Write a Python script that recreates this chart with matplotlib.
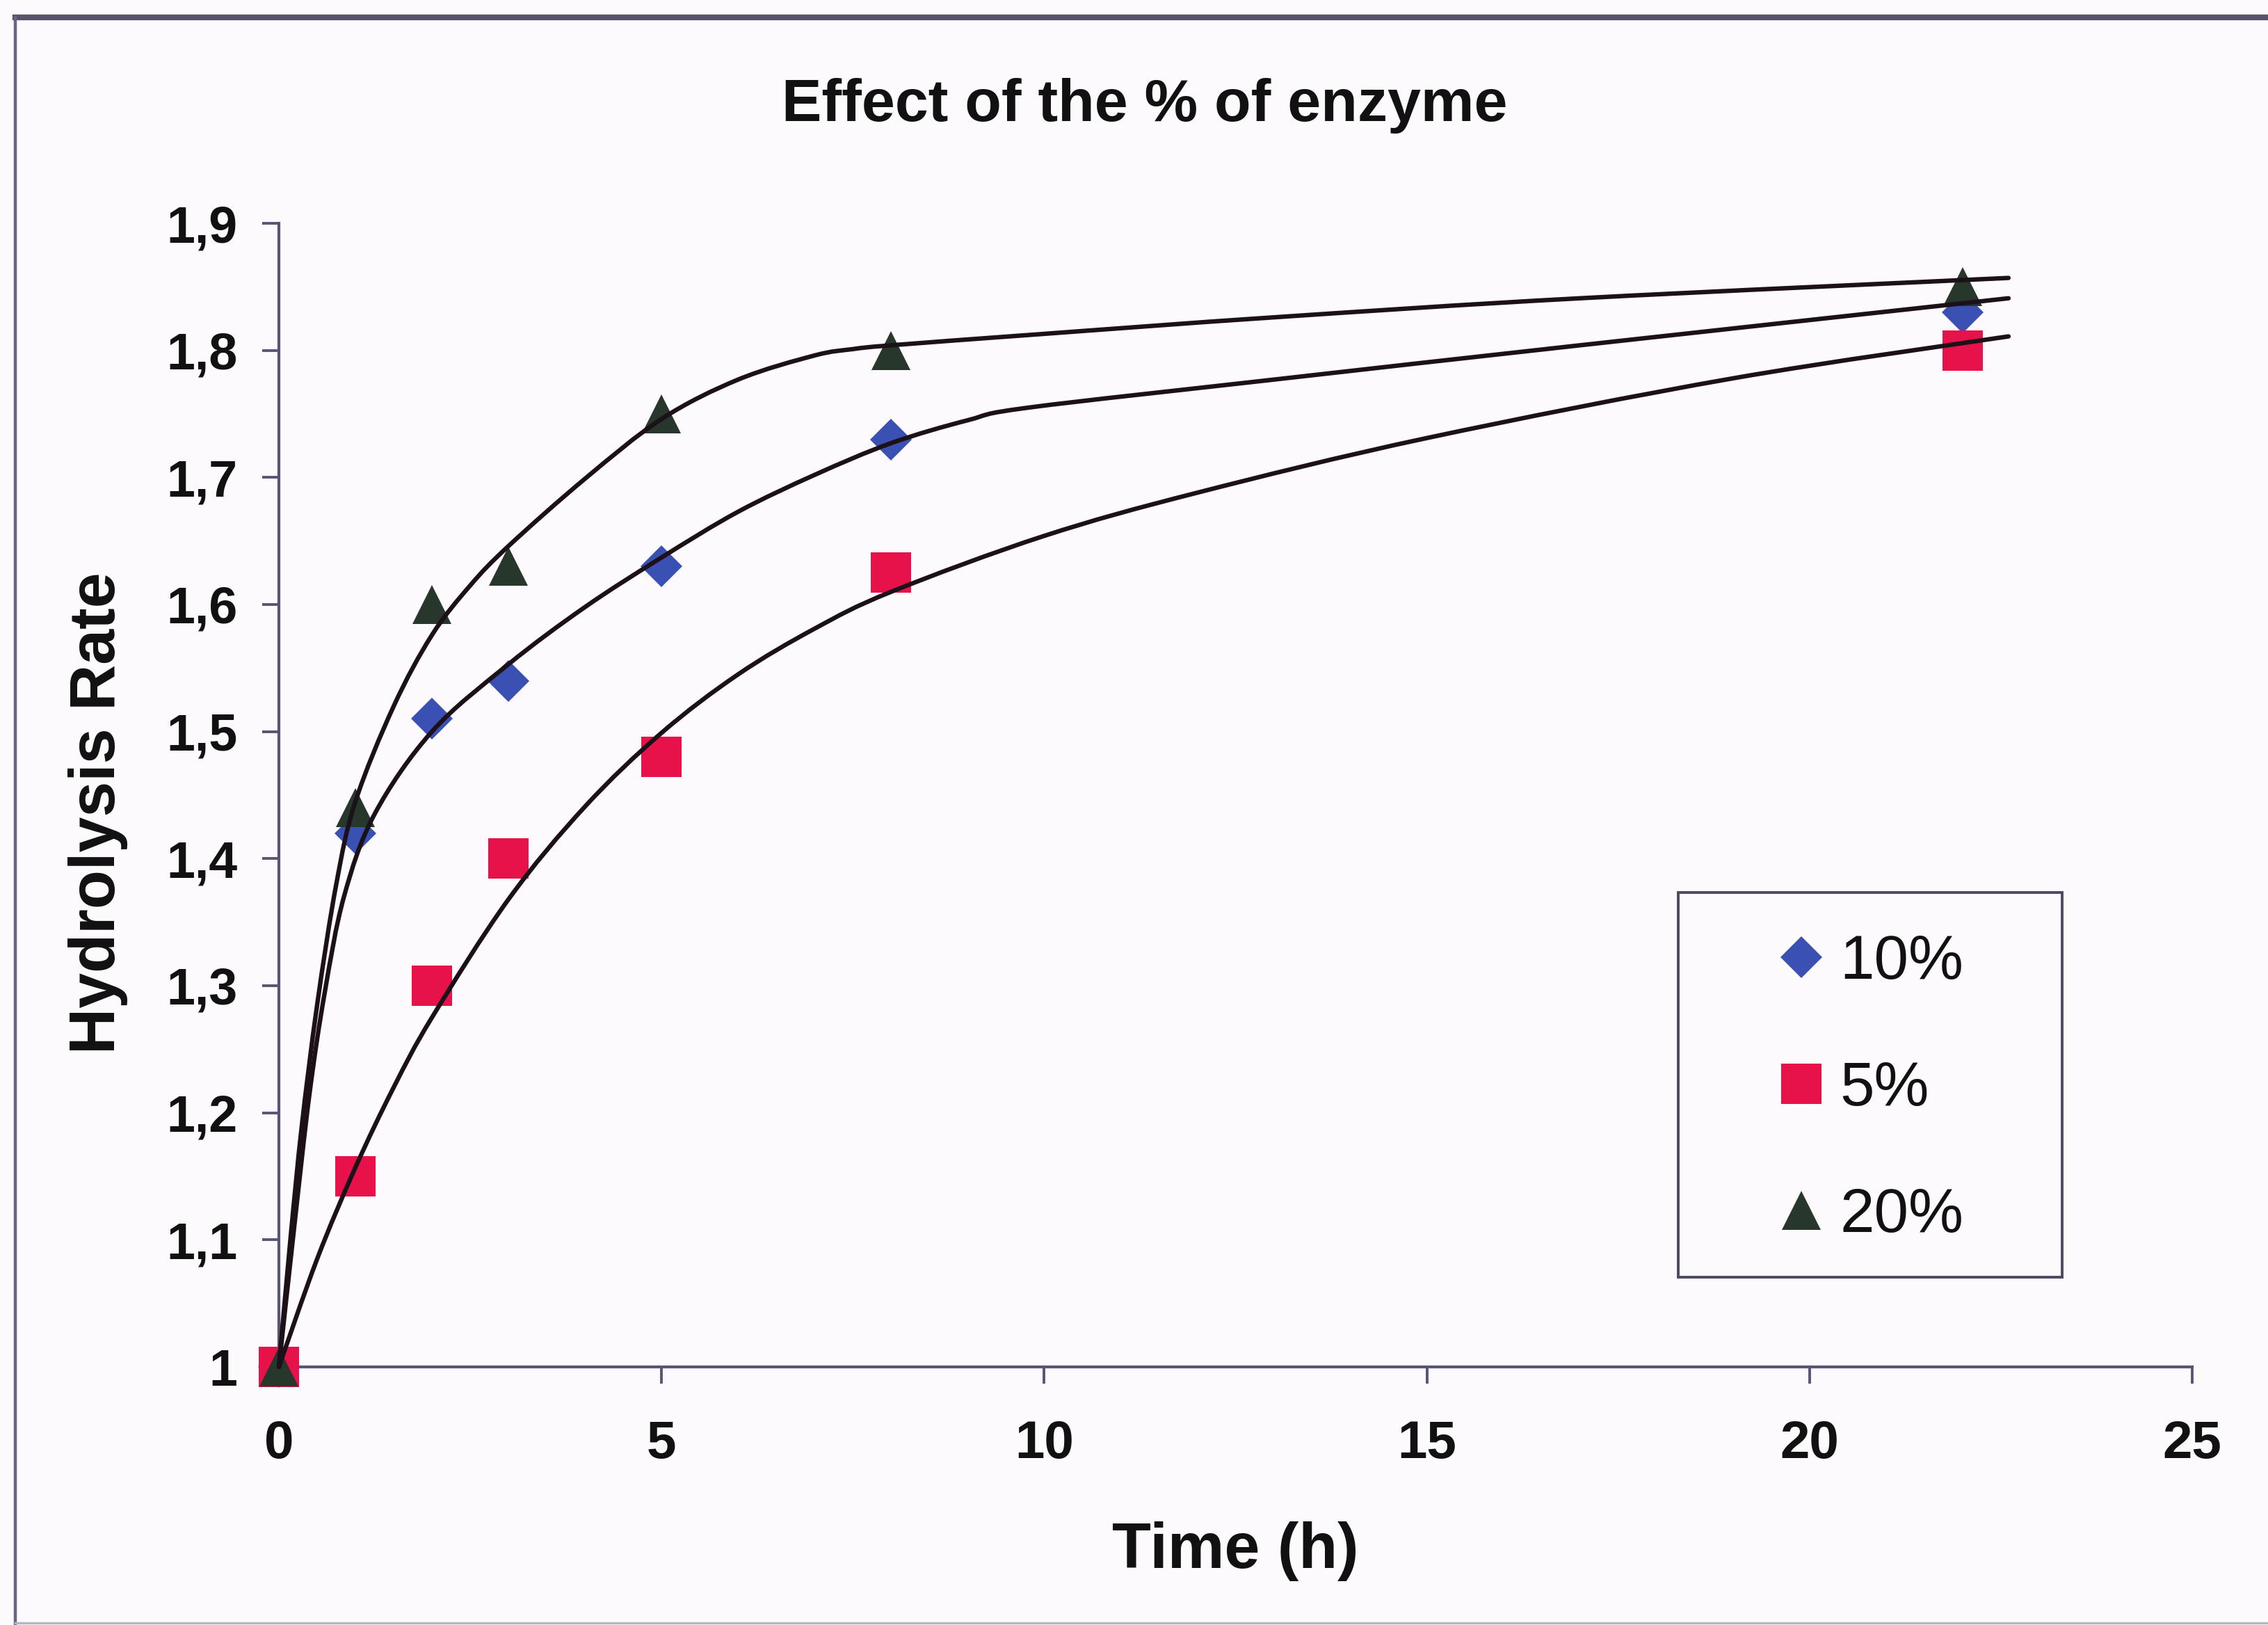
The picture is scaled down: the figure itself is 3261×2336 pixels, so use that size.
import matplotlib
matplotlib.use("Agg")
import matplotlib.pyplot as plt
from matplotlib.lines import Line2D
from matplotlib.patches import Rectangle, PathPatch
from matplotlib.path import Path
from matplotlib.ticker import FixedLocator, FixedFormatter

# Measured hydrolysis rate at each sampling time
time_h = [0, 1, 2, 3, 5, 8, 22]
rate_10 = [1.00, 1.42, 1.51, 1.54, 1.63, 1.73, 1.83]
rate_5 = [1.00, 1.15, 1.30, 1.40, 1.48, 1.625, 1.80]
rate_20 = [1.00, 1.44, 1.60, 1.63, 1.75, 1.80, 1.85]

# Fitted trend curves (sampled points along each curve)
fit20_x = [0, 0.15, 0.3, 0.5, 0.75, 1.0, 1.5, 2.0, 2.5, 3.0, 4.0, 5.0, 6.0, 7.0, 7.5,
           8.0, 10.0, 13.0, 17.0, 22.6]
fit20_y = [1.0, 1.10, 1.19, 1.285, 1.38, 1.445, 1.52, 1.576, 1.615, 1.646, 1.699, 1.746,
           1.777, 1.796, 1.801, 1.804, 1.813, 1.826, 1.841, 1.857]

fit10_x = [0, 0.2, 0.4, 0.6, 0.85, 1.25, 2.0, 3.0, 4.0, 5.0, 6.0, 7.0, 8.0, 9.0, 9.8,
           13.0, 17.0, 22.6]
fit10_y = [1.0, 1.11, 1.215, 1.295, 1.37, 1.435, 1.50, 1.553, 1.598, 1.637, 1.673, 1.702,
           1.727, 1.745, 1.755, 1.777, 1.804, 1.841]

fit5_x = [0, 0.5, 1.0, 1.5, 2.0, 3.0, 4.0, 5.0, 6.0, 7.0, 8.0, 10.0, 12.0, 15.0, 19.0,
          22.6]
fit5_y = [1.0, 1.085, 1.157, 1.22, 1.275, 1.368, 1.441, 1.499, 1.545, 1.581, 1.610, 1.654,
          1.688, 1.731, 1.778, 1.811]

series_labels = ["10%", "5%", "20%"]
x_ticks = [0, 5, 10, 15, 20, 25]
y_ticks = [1.0, 1.1, 1.2, 1.3, 1.4, 1.5, 1.6, 1.7, 1.8, 1.9]
y_tick_labels = ["1", "1,1", "1,2", "1,3", "1,4", "1,5", "1,6", "1,7", "1,8", "1,9"]

FONT = "Liberation Sans"
BG = "#fdfafd"
AXIS_C = "#5a5474"
CURVE_C = "#1c1119"
C10, C5, C20 = "#3a50b2", "#e8124a", "#27372b"

W, H = 3262, 2336
fig = plt.figure(figsize=(W / 200, H / 200), dpi=200, facecolor=BG)


def fx(px):
    return px / W


def fy(py):
    return 1 - py / H


def smooth_path(xs, ys):
    """Cubic Bezier path passing through every sampled point (Catmull-Rom tangents)."""
    pts = list(zip(xs, ys))
    n = len(pts)
    verts = [pts[0]]
    codes = [Path.MOVETO]
    for i in range(n - 1):
        p0 = pts[i - 1] if i > 0 else pts[i]
        p1 = pts[i]
        p2 = pts[i + 1]
        p3 = pts[i + 2] if i + 2 < n else pts[i + 1]
        c1 = (p1[0] + (p2[0] - p0[0]) / 6, p1[1] + (p2[1] - p0[1]) / 6)
        c2 = (p2[0] - (p3[0] - p1[0]) / 6, p2[1] - (p3[1] - p1[1]) / 6)
        verts += [c1, c2, p2]
        codes += [Path.CURVE4] * 3
    return Path(verts, codes)


ax = fig.add_axes([fx(401), fy(1965), fx(3152) - fx(401), fy(321) - fy(1965)])
ax.set_facecolor(BG)
ax.set_xlim(0, 25)
ax.set_ylim(1.0, 1.9)

for side in ("top", "right"):
    ax.spines[side].set_visible(False)
for side in ("left", "bottom"):
    ax.spines[side].set_color(AXIS_C)
    ax.spines[side].set_linewidth(1.5)

ax.xaxis.set_major_locator(FixedLocator(x_ticks))
ax.yaxis.set_major_locator(FixedLocator(y_ticks))
ax.yaxis.set_major_formatter(FixedFormatter(y_tick_labels))
ax.tick_params(axis="both", direction="out", length=8.5, width=1.4, color=AXIS_C,
               labelcolor="#111111")
ax.tick_params(axis="y", pad=13, labelsize=26.5)
ax.tick_params(axis="x", pad=19, labelsize=27.5)
for lbl in ax.get_xticklabels() + ax.get_yticklabels():
    lbl.set_fontfamily(FONT)
    lbl.set_fontweight("bold")

# Markers for the measured points
ax.plot(time_h, rate_10, linestyle="none", marker="D", markersize=15.5, color=C10,
        markeredgewidth=0, clip_on=False, zorder=3)
ax.plot(time_h, rate_5, linestyle="none", marker="s", markersize=21, color=C5,
        markeredgewidth=0, clip_on=False, zorder=3)
ax.plot(time_h, rate_20, linestyle="none", marker="^", markersize=20.5, color=C20,
        markeredgewidth=0, clip_on=False, zorder=3)

# Smooth trend curves drawn over the markers
for cx, cy in ((fit20_x, fit20_y), (fit10_x, fit10_y), (fit5_x, fit5_y)):
    ax.add_patch(PathPatch(smooth_path(cx, cy), transform=ax.transData, fill=False,
                           edgecolor=CURVE_C, linewidth=2.3, capstyle="round",
                           joinstyle="round", clip_on=False, zorder=4))

# Axis titles and chart title
ax.set_xlabel("Time (h)", fontfamily=FONT, fontweight="bold", fontsize=33,
              va="center", color="#111111")
ax.xaxis.set_label_coords(0.5, -(2230 - 1965) / (1965 - 321))
ax.set_ylabel("Hydrolysis Rate", fontfamily=FONT, fontweight="bold", fontsize=33,
              va="center", color="#111111")
ax.yaxis.set_label_coords((141 - 401) / (3152 - 401), (1965 - 1169) / (1965 - 321))
fig.text(fx(1646), fy(152), "Effect of the % of enzyme", fontfamily=FONT,
         fontweight="bold", fontsize=31, ha="center", va="center", color="#111111")

# Legend
handles = [
    Line2D([], [], linestyle="none", marker="D", markersize=15.5, color=C10, markeredgewidth=0),
    Line2D([], [], linestyle="none", marker="s", markersize=21, color=C5, markeredgewidth=0),
    Line2D([], [], linestyle="none", marker="^", markersize=20.5, color=C20, markeredgewidth=0),
]
leg = fig.legend(handles, series_labels, loc="center",
                 bbox_to_anchor=(fx(2690), fy(1566)), frameon=False,
                 prop={"family": FONT, "size": 32}, handlelength=0.75,
                 handletextpad=0.25, labelspacing=1.1, borderpad=0)
for t in leg.get_texts():
    t.set_color("#111111")
fig.add_artist(Rectangle((fx(2413), fy(1836)), fx(2965) - fx(2413), fy(1283) - fy(1836),
                         transform=fig.transFigure, fill=False, edgecolor="#4d4862",
                         linewidth=1.4))

# Outer chart border
fig.add_artist(Line2D([fx(22), fx(W)], [fy(25), fy(25)], transform=fig.transFigure,
                      color="#57526a", linewidth=3.0))
fig.add_artist(Line2D([fx(22), fx(22)], [fy(25), fy(2334)], transform=fig.transFigure,
                      color="#6a6580", linewidth=1.6))
fig.add_artist(Line2D([fx(22), fx(W)], [fy(2333), fy(2333)], transform=fig.transFigure,
                      color="#b8b4c4", linewidth=1.2))

fig.savefig("out.png", dpi=200, facecolor=BG)
